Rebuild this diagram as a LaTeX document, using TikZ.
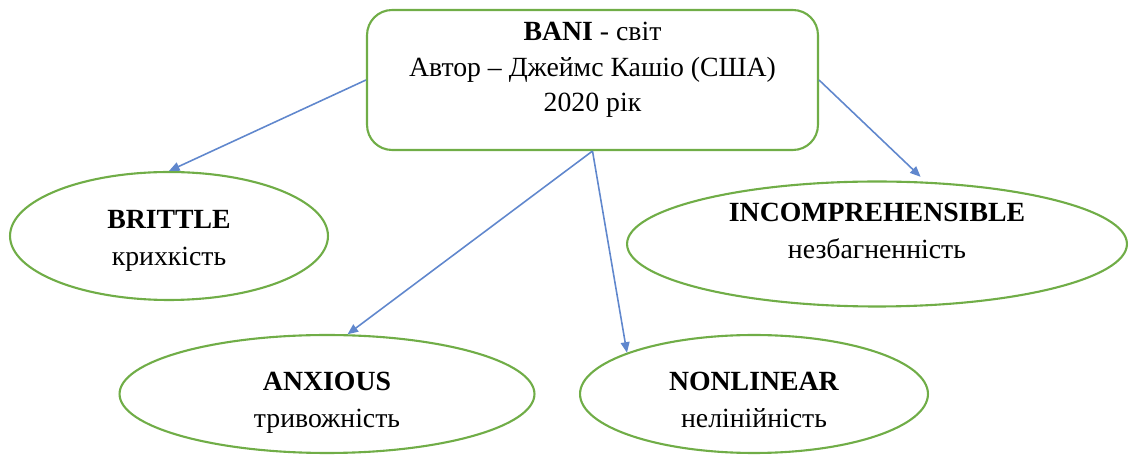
\documentclass[tikz,border=0pt]{standalone}
\usepackage{fontspec}
\setmainfont{Liberation Serif}
\usepackage{tikz}
\usetikzlibrary{arrows.meta,shapes.geometric}
\definecolor{framegreen}{HTML}{70AD47}
\definecolor{arrowblue}{HTML}{4472C4}

\begin{document}
\begin{tikzpicture}[x=0.02cm, y=-0.02cm,
	every node/.style={font=\fontsize{15.8}{20}\selectfont, align=center, inner sep=0pt},
	mainbox/.style={draw=framegreen, line width=1.2pt, rounded corners=0.5cm, rectangle},
	oval/.style={draw=framegreen, line width=1.2pt, ellipse},
	link/.style={draw=arrowblue!85, line width=0.9pt, -{Triangle[length=6pt,width=5pt]}}]
			%%%%% START %%%%%
			\useasboundingbox (0, 0) rectangle (1129, 455);
			
			\node[mainbox, minimum width=9.02cm, minimum height=2.8cm] (bani) at (592.5, 80)
				{\textbf{BANI} - світ\\Автор – Джеймс Кашіо (США)\\2020 рік\rule[-15pt]{0pt}{0pt}};
			
			\node[oval, minimum width=6.36cm, minimum height=2.56cm] (brittle) at (169, 236)
				{\rule{0pt}{16pt}\textbf{BRITTLE}\\[1pt]крихкість};
			\node[oval, minimum width=10cm, minimum height=2.5cm] (incomp) at (877, 244)
				{\textbf{INCOMPREHENSIBLE}\\[1pt]незбагненність\rule[-14.6pt]{0pt}{0pt}};
			\node[oval, minimum width=8.3cm, minimum height=2.36cm] (anxious) at (327, 394)
				{\rule{0pt}{20.4pt}\textbf{ANXIOUS}\\[1pt]тривожність};
			\node[oval, minimum width=6.96cm, minimum height=2.36cm] (nonlinear) at (754, 394)
				{\rule{0pt}{17.2pt}\textbf{NONLINEAR}\\[1pt]нелінійність};
			
			\draw[link] (bani.west) -- (brittle.north);
			\draw[link] (bani.south) -- (anxious.71);
			\draw[link] (bani.south) -- (nonlinear.162);
			\draw[link, shorten >=4pt] (bani.east) -- (incomp.52);
			%%%%% END %%%%%
\end{tikzpicture}
\end{document}
